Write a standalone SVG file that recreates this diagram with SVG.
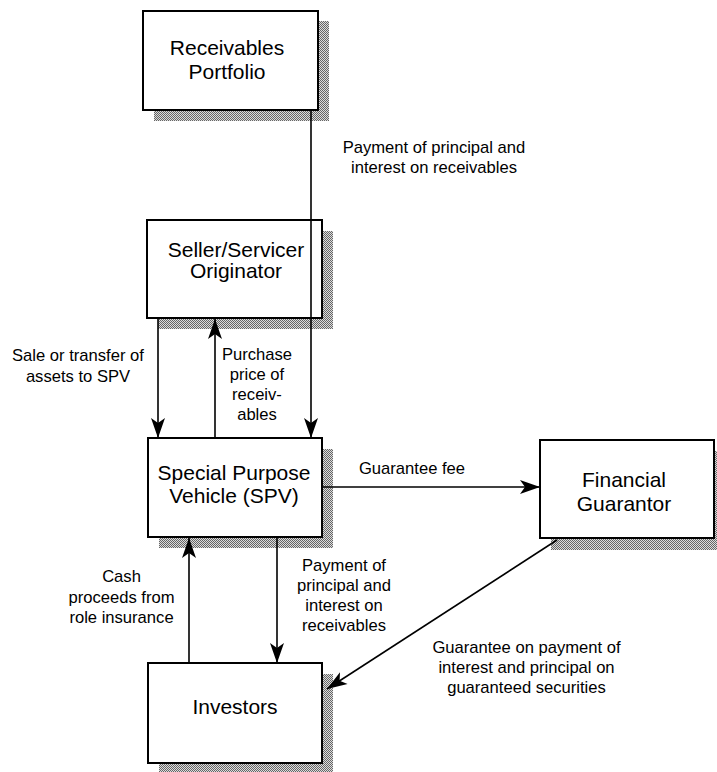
<svg xmlns="http://www.w3.org/2000/svg" width="717" height="772" viewBox="0 0 717 772">
<defs>
<pattern id="dither" width="2" height="2" patternUnits="userSpaceOnUse">
<rect width="2" height="2" fill="#dcdcdc"/>
<rect width="1" height="1" fill="#666"/>
<rect x="1" y="1" width="1" height="1" fill="#666"/>
</pattern>
<marker id="arr" markerUnits="userSpaceOnUse" markerWidth="22" markerHeight="16" viewBox="-21 -8 22 16" refX="0" refY="0" orient="auto">
<path d="M0,0 L-20,-7 L-15,0 L-20,7 Z" fill="#000"/>
</marker>
<style>
.box{fill:#fff;stroke:#000;stroke-width:2}
.shadow{fill:url(#dither);stroke:none}
.nt{font-family:"Liberation Sans",Arial,Helvetica,sans-serif;font-size:21px;fill:#000;text-anchor:middle}
.lt{font-family:"Liberation Sans",Arial,Helvetica,sans-serif;font-size:16.6px;fill:#000;text-anchor:middle}
.c{stroke:#000;stroke-width:1.6;fill:none}
.ca{stroke:#000;stroke-width:1.6;fill:none;marker-end:url(#arr)}
</style>
</defs>
<rect width="717" height="772" fill="#fff"/>

<g id="receivables">
<rect class="shadow" x="154" y="21" width="175" height="100"/>
<rect class="box" x="143" y="11" width="175" height="99"/>
<text class="nt" x="227" y="55">Receivables</text>
<text class="nt" x="227" y="79">Portfolio</text>
</g>

<g id="seller">
<rect class="shadow" x="158" y="231" width="175" height="98"/>
<rect class="box" x="147" y="220" width="175" height="98"/>
<text class="nt" x="236" y="257">Seller/Servicer</text>
<text class="nt" x="236" y="278">Originator</text>
</g>

<g id="spv">
<rect class="shadow" x="159" y="449" width="174" height="99"/>
<rect class="box" x="148" y="438" width="174" height="99"/>
<text class="nt" x="234" y="480">Special Purpose</text>
<text class="nt" x="234" y="503">Vehicle (SPV)</text>
</g>

<g id="guarantor">
<rect class="shadow" x="551" y="451" width="174" height="99"/>
<rect class="box" x="540" y="440" width="174" height="98"/>
<text class="nt" x="624" y="487">Financial</text>
<text class="nt" x="624" y="511">Guarantor</text>
</g>

<g id="investors">
<rect class="shadow" x="159" y="674" width="174" height="100"/>
<rect class="box" x="148" y="663" width="174" height="100"/>
<text class="nt" x="235" y="714">Investors</text>
</g>

<g id="connectors">
<line class="ca" x1="311" y1="110" x2="311" y2="438"/>
<line class="ca" x1="158" y1="318" x2="158" y2="438"/>
<line class="ca" x1="215" y1="438" x2="215" y2="319"/>
<line class="ca" x1="322" y1="487" x2="540" y2="487"/>
<line class="ca" x1="277" y1="537" x2="277" y2="663"/>
<line class="ca" x1="189" y1="663" x2="189" y2="538"/>
<line class="ca" x1="557" y1="540" x2="327" y2="689"/>
</g>

<g id="labels">
<text class="lt" x="434" y="153">Payment of principal and</text>
<text class="lt" x="434" y="173">interest on receivables</text>
<text class="lt" x="78" y="361">Sale or transfer of</text>
<text class="lt" x="78" y="382">assets to SPV</text>
<text class="lt" x="257" y="360">Purchase</text>
<text class="lt" x="257" y="380">price of</text>
<text class="lt" x="257" y="400">receiv-</text>
<text class="lt" x="257" y="420">ables</text>
<text class="lt" x="412" y="474">Guarantee fee</text>
<text class="lt" x="344" y="571">Payment of</text>
<text class="lt" x="344" y="591">principal and</text>
<text class="lt" x="344" y="611">interest on</text>
<text class="lt" x="344" y="631">receivables</text>
<text class="lt" x="121.5" y="582">Cash</text>
<text class="lt" x="121.5" y="603">proceeds from</text>
<text class="lt" x="121.5" y="623">role insurance</text>
<text class="lt" x="526.5" y="653">Guarantee on payment of</text>
<text class="lt" x="526.5" y="673">interest and principal on</text>
<text class="lt" x="526.5" y="693">guaranteed securities</text>
</g>
</svg>
